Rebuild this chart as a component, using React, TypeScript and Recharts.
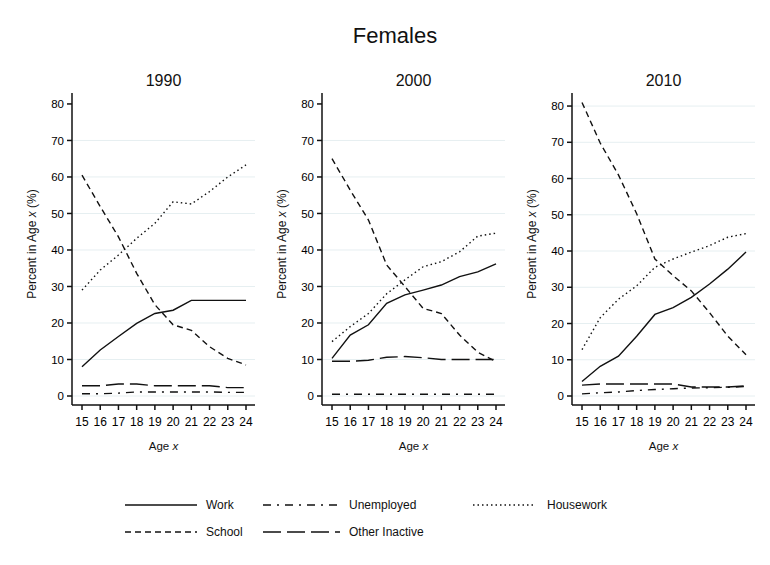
import { LineChart, Line, XAxis, YAxis, CartesianGrid } from "recharts";

const ages = [15, 16, 17, 18, 19, 20, 21, 22, 23, 24];
const yTicks = [0, 10, 20, 30, 40, 50, 60, 70, 80];

// 1990
const work1990 = [8, 12.6, 16.3, 19.9, 22.6, 23.5, 26.2, 26.2, 26.2, 26.2];
const unemp1990 = [0.6, 0.6, 0.8, 1.1, 1.1, 1.1, 1.1, 1.1, 1.0, 1.0];
const house1990 = [29, 34.5, 38.6, 43.2, 47.3, 53.2, 52.6, 56, 60, 63.3];
const school1990 = [60.5, 51.9, 43.6, 33.6, 25, 19.5, 18, 13.5, 10.3, 8.5];
const other1990 = [2.8, 2.8, 3.3, 3.3, 2.8, 2.8, 2.8, 2.8, 2.3, 2.3];

// 2000
const work2000 = [10.3, 16.7, 19.5, 25.4, 27.7, 29, 30.4, 32.7, 34, 36.2];
const unemp2000 = [0.5, 0.5, 0.5, 0.5, 0.5, 0.5, 0.5, 0.5, 0.5, 0.5];
const house2000 = [14.9, 19, 22.6, 28, 31.8, 35.4, 36.8, 39.5, 43.8, 44.6];
const school2000 = [65, 56.4, 48.2, 35.9, 30, 24, 22.6, 16.7, 12, 9.4];
const other2000 = [9.5, 9.5, 9.8, 10.6, 10.8, 10.5, 10, 10, 10, 10];

// 2010
const work2010 = [4, 8.2, 11, 16.5, 22.5, 24.4, 27.2, 30.9, 35, 39.7];
const unemp2010 = [0.6, 0.9, 1.1, 1.5, 1.8, 2, 2.2, 2.3, 2.4, 2.6];
const house2010 = [12.8, 21.6, 26.7, 30.4, 35.5, 37.8, 39.7, 41.5, 43.8, 44.8];
const school2010 = [81, 69.8, 61, 50.3, 37.8, 33.2, 29, 23, 16.5, 11.4];
const other2010 = [3, 3.3, 3.3, 3.3, 3.3, 3.3, 2.5, 2.5, 2.5, 2.8];

const FONT = "'Liberation Sans', Arial, sans-serif";
const INK = "#111";

const series = [
  { key: "work", name: "Work", dash: undefined as string | undefined },
  { key: "unemp", name: "Unemployed", dash: "8 6 2 6" },
  { key: "house", name: "Housework", dash: "1.5 3" },
  { key: "school", name: "School", dash: "6 4" },
  { key: "other", name: "Other Inactive", dash: "18 6" },
];

const build = (w: number[], u: number[], h: number[], s: number[], o: number[]) =>
  ages.map((age, i) => ({ age, work: w[i], unemp: u[i], house: h[i], school: s[i], other: o[i] }));

const panels = [
  { title: "1990", data: build(work1990, unemp1990, house1990, school1990, other1990), yMax: 83, grid: yTicks.slice(0, 8) },
  { title: "2000", data: build(work2000, unemp2000, house2000, school2000, other2000), yMax: 83, grid: yTicks.slice(0, 8) },
  { title: "2010", data: build(work2010, unemp2010, house2010, school2010, other2010), yMax: 83.6, grid: yTicks },
];

function Panel({ title, data, yMax, grid, left }: any) {
  return (
    <div style={{ position: "absolute", left, top: 60, width: 250, height: 400 }}>
      <div
        style={{
          position: "absolute",
          left: 52,
          width: 183,
          top: 12,
          textAlign: "center",
          fontFamily: FONT,
          fontSize: 16,
          color: INK,
        }}
      >
        {title}
      </div>
      <LineChart width={250} height={400} data={data} margin={{ top: 33, right: 15, bottom: 10, left: 0 }}>
        <CartesianGrid vertical={false} stroke="#e6eff1" horizontalValues={grid} />
        <XAxis
          dataKey="age"
          type="number"
          domain={[15, 24]}
          ticks={ages}
          interval={0}
          padding={{ left: 10, right: 9 }}
          height={45}
          tickSize={5}
          tickMargin={7}
          stroke={INK}
          strokeWidth={1.5}
          tick={{ fontSize: 12, fill: "#000", fontFamily: FONT }}
          label={{
            content: ({ viewBox }: any) => (
              <text
                x={viewBox.x + viewBox.width / 2}
                y={viewBox.y + 45}
                textAnchor="middle"
                fontSize={11.5}
                fill={INK}
                fontFamily={FONT}
              >
                Age <tspan fontStyle="italic">x</tspan>
              </text>
            ),
          }}
        />
        <YAxis
          type="number"
          domain={[0, yMax]}
          ticks={yTicks}
          interval={0}
          allowDataOverflow
          padding={{ top: 0, bottom: 9 }}
          width={52}
          tickSize={5}
          tickMargin={3}
          stroke={INK}
          strokeWidth={1.5}
          tick={{ fontSize: 11.5, fill: "#000", fontFamily: FONT }}
          label={{
            content: ({ viewBox }: any) => {
              const cy = viewBox.y + viewBox.height / 2 - 5;
              return (
                <text
                  x={12}
                  y={cy}
                  transform={`rotate(-90 12 ${cy})`}
                  textAnchor="middle"
                  dominantBaseline="central"
                  fontSize={12}
                  fill={INK}
                  fontFamily={FONT}
                >
                  Percent in Age <tspan fontStyle="italic">x</tspan> (%)
                </text>
              );
            },
          }}
        />
        {series.map((s) => (
          <Line
            key={s.key}
            type="linear"
            dataKey={s.key}
            name={s.name}
            stroke={INK}
            strokeWidth={1.4}
            strokeDasharray={s.dash}
            dot={false}
            activeDot={false}
            isAnimationActive={false}
          />
        ))}
      </LineChart>
    </div>
  );
}

// legend order: row 1 Work, Unemployed, Housework; row 2 School, Other Inactive
const legendPos = [
  { x: 125, y: 505, len: 72 },
  { x: 263, y: 505, len: 77 },
  { x: 473, y: 505, len: 62 },
  { x: 125, y: 532, len: 72 },
  { x: 263, y: 532, len: 77 },
];

function LegendBox() {
  return (
    <svg style={{ position: "absolute", left: 0, top: 0 }} width={770} height={565}>
      {series.map((s, i) => {
        const p = legendPos[i];
        return (
          <g key={s.key}>
            <line
              x1={p.x}
              x2={p.x + p.len}
              y1={p.y}
              y2={p.y}
              stroke={INK}
              strokeWidth={1.4}
              strokeDasharray={s.dash}
            />
            <text
              x={p.x + p.len + (p.len === 62 ? 12 : 9)}
              y={p.y}
              dominantBaseline="central"
              fontSize={12}
              fill={INK}
              fontFamily={FONT}
            >
              {s.name}
            </text>
          </g>
        );
      })}
    </svg>
  );
}

export default function App() {
  return (
    <div style={{ position: "absolute", left: 0, top: 0, width: 770, height: 565, background: "#fff" }}>
      <div
        style={{
          position: "absolute",
          left: 0,
          width: 790,
          top: 23,
          textAlign: "center",
          fontFamily: FONT,
          fontSize: 22,
          color: INK,
        }}
      >
        Females
      </div>
      {panels.map((p, i) => (
        <Panel key={p.title} {...p} left={20 + i * 250} />
      ))}
      <LegendBox />
    </div>
  );
}
